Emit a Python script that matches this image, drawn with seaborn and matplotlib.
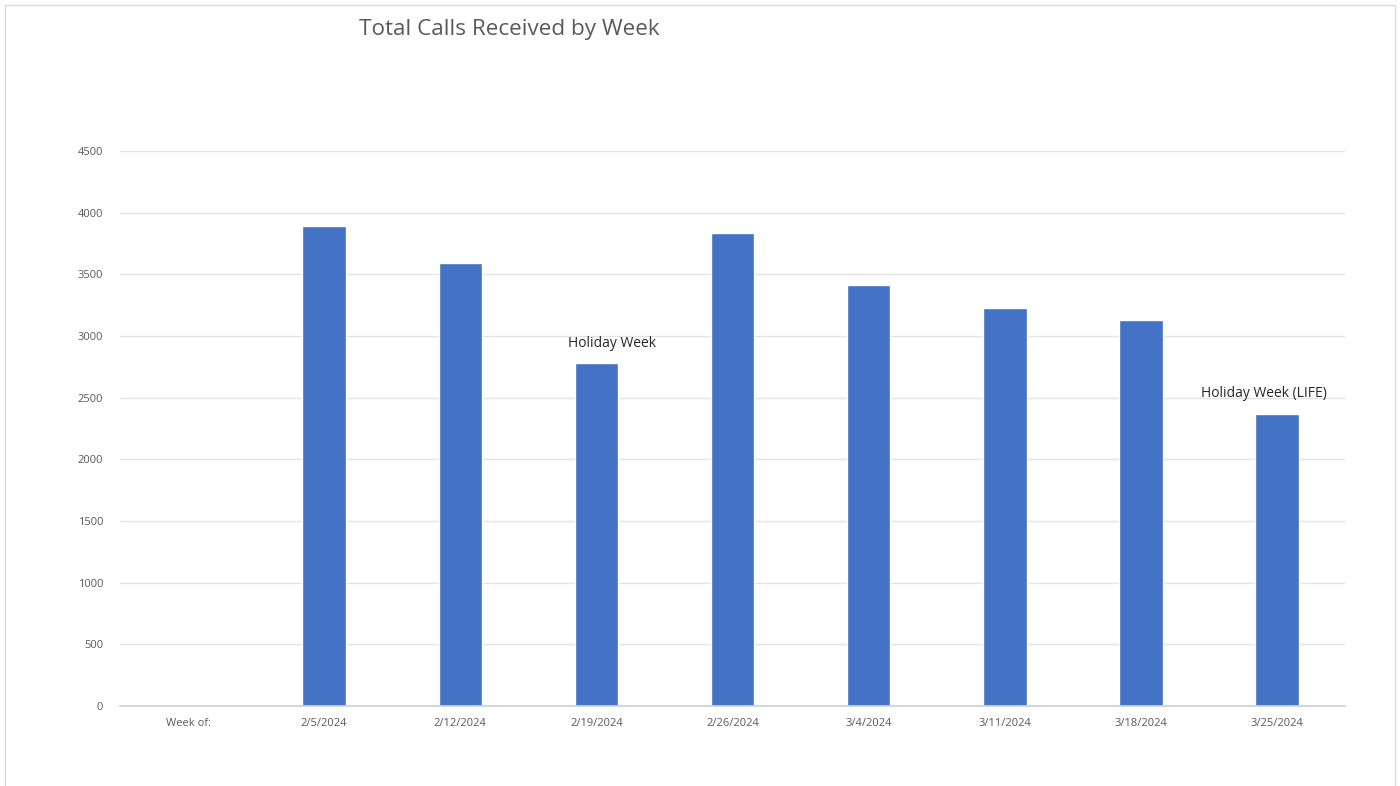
import numpy as np
import matplotlib
matplotlib.use("Agg")
import matplotlib.pyplot as plt
import pandas as pd
import seaborn as sns
from matplotlib.patches import Rectangle

# data
weeks = ["Week of:", "2/5/2024", "2/12/2024", "2/19/2024", "2/26/2024",
         "3/4/2024", "3/11/2024", "3/18/2024", "3/25/2024"]
calls = [np.nan, 3888, 3590, 2785, 3835, 3410, 3226, 3128, 2368]
notes = {"2/19/2024": "Holiday Week", "3/25/2024": "Holiday Week (LIFE)"}
y_ticks = list(range(0, 5000, 500))

# label offsets (points) so the notes sit where the original put them
note_offsets = {"2/19/2024": (11.5, 8), "3/25/2024": (-9.5, 9)}

sns.set_theme(style="white")
plt.rcParams['font.family'] = ['Open Sans', 'DejaVu Sans']

df = pd.DataFrame({"week": weeks, "calls": calls})

fig = plt.figure(figsize=(14, 7.86), dpi=100)
ax = fig.add_axes([120 / 1400, 1 - 706 / 786, 1225 / 1400, 555 / 786])

sns.barplot(data=df, x="week", y="calls", order=weeks, color="#4472C4",
            width=0.32, saturation=1, ax=ax)

ax.set_ylim(0, 4500)
ax.set_yticks(y_ticks)
ax.set_xlim(-0.5, len(weeks) - 0.5)
ax.yaxis.grid(True, color="#e3e3e3", linewidth=1)
ax.set_axisbelow(True)
for side in ["top", "right", "left"]:
    ax.spines[side].set_visible(False)
ax.spines["bottom"].set_color("#d0d0d0")
ax.tick_params(axis="both", length=0, labelsize=8, labelcolor="#595959")
ax.tick_params(axis="x", pad=9)
ax.tick_params(axis="y", pad=12)
ax.set_xlabel("")
ax.set_ylabel("")

for wk, label in notes.items():
    i = weeks.index(wk)
    ax.annotate(label, (i, calls[i]), xytext=note_offsets[wk],
                textcoords="offset points", ha="center", va="bottom",
                fontsize=10, color="#262626")

fig.text(0.364, 0.962, "Total Calls Received by Week", ha="center", va="center",
         fontsize=16.2, color="#595959")

fig.patches.append(Rectangle((5 / 1400, -0.01), 1390 / 1400, 1 - 5 / 786 + 0.01,
                             transform=fig.transFigure, fill=False,
                             edgecolor="#d9d9d9", linewidth=1))

fig.savefig("out.png", dpi=100)
